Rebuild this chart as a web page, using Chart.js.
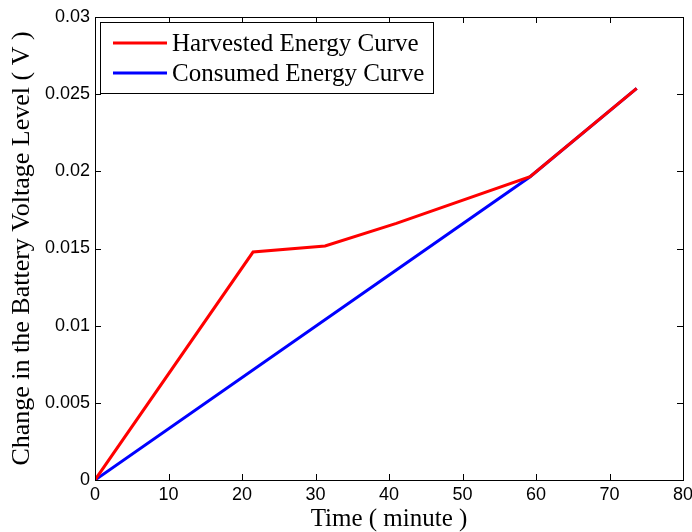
<!DOCTYPE html>
<html>
<head>
<meta charset="utf-8">
<script src="https://cdn.jsdelivr.net/npm/chart.js@4/dist/chart.umd.min.js"></script>
<style>
  html, body { margin: 0; padding: 0; background: #fff; }
  #wrap { width: 692px; height: 532px; }
</style>
</head>
<body>
<div id="wrap"><canvas id="voltageChart" width="692" height="532"></canvas></div>
<script>
// Data
const harvestedTime = [0, 21.5, 31.3, 41.0, 59.2, 73.7];
const harvestedVolt = [0, 0.01477, 0.01516, 0.01663, 0.01965, 0.02538];
const consumedTime = [0, 59.2, 73.7];
const consumedVolt = [0, 0.01965, 0.02538];
const seriesLabels = ['Harvested Energy Curve', 'Consumed Energy Curve'];
const xTicks = [0, 10, 20, 30, 40, 50, 60, 70, 80];
const yTicks = [0, 0.005, 0.01, 0.015, 0.02, 0.025, 0.03];

const toPoints = (xs, ys) => xs.map((x, i) => ({ x: x, y: ys[i] }));

// MATLAB-like box with inward ticks on all four sides, plus a boxed legend
const matlabBox = {
    id: 'matlabBox',
    afterDatasetsDraw(chart) {
        const ctx = chart.ctx;
        const a = chart.chartArea;
        const xs = chart.scales.x, ys = chart.scales.y;
        const tl = 6;
        ctx.save();
        ctx.strokeStyle = '#000';
        ctx.lineWidth = 1;
        ctx.beginPath();
        xTicks.forEach(v => {
            const px = Math.round(xs.getPixelForValue(v)) + 0.5;
            ctx.moveTo(px, a.bottom); ctx.lineTo(px, a.bottom - tl);
            ctx.moveTo(px, a.top); ctx.lineTo(px, a.top + tl);
        });
        yTicks.forEach(v => {
            const py = Math.round(ys.getPixelForValue(v)) + 0.5;
            ctx.moveTo(a.left, py); ctx.lineTo(a.left + tl, py);
            ctx.moveTo(a.right, py); ctx.lineTo(a.right - tl, py);
        });
        ctx.stroke();
        ctx.strokeRect(Math.round(a.left) + 0.5, Math.round(a.top) + 0.5,
            Math.round(a.right - a.left), Math.round(a.bottom - a.top));

        // legend
        const lx = a.left + 5, ly = a.top + 5, lw = 333, lh = 71;
        ctx.fillStyle = '#fff';
        ctx.fillRect(lx, ly, lw, lh);
        ctx.strokeRect(Math.round(lx) + 0.5, Math.round(ly) + 0.5, lw, lh);
        ctx.font = '25px "Liberation Serif", "Times New Roman", serif';
        ctx.textBaseline = 'middle';
        ctx.textAlign = 'left';
        chart.data.datasets.forEach((ds, i) => {
            const cy = ly + 21 + i * 30;
            ctx.strokeStyle = ds.borderColor;
            ctx.lineWidth = 3;
            ctx.beginPath();
            ctx.moveTo(lx + 13, cy); ctx.lineTo(lx + 67, cy);
            ctx.stroke();
            ctx.fillStyle = '#000';
            ctx.fillText(ds.label, lx + 72, cy + 1);
        });
        ctx.restore();
    }
};

const ctx = document.getElementById('voltageChart').getContext('2d');
const voltageChart = new Chart(ctx, {
    type: 'line',
    data: {
        datasets: [{
            label: seriesLabels[0],
            data: toPoints(harvestedTime, harvestedVolt),
            borderColor: '#ff0000',
            borderWidth: 3,
            pointRadius: 0,
            fill: false,
            tension: 0
        }, {
            label: seriesLabels[1],
            data: toPoints(consumedTime, consumedVolt),
            borderColor: '#0000ff',
            borderWidth: 3,
            pointRadius: 0,
            fill: false,
            tension: 0
        }]
    },
    options: {
        responsive: false,
        animation: false,
        layout: { padding: { left: 0, top: 17, right: 9, bottom: 0 } },
        plugins: {
            legend: { display: false },
            tooltip: { enabled: false }
        },
        scales: {
            x: {
                type: 'linear',
                min: 0, max: 80,
                afterFit: s => { s.height = 52; s.paddingLeft = 0; s.paddingRight = 0; },
                afterBuildTicks: s => { s.ticks = xTicks.map(v => ({ value: v })); },
                grid: { display: false, drawTicks: false },
                border: { display: false },
                ticks: {
                    padding: 4,
                    color: '#000',
                    font: { family: '"Liberation Sans", Arial, sans-serif', size: 18 }
                },
                title: {
                    display: true,
                    text: 'Time ( minute )',
                    color: '#000',
                    padding: 0,
                    font: { family: '"Liberation Serif", "Times New Roman", serif', size: 25, lineHeight: 1 }
                }
            },
            y: {
                min: 0, max: 0.03,
                afterFit: s => { s.width = 95; s.paddingTop = 0; s.paddingBottom = 0; },
                afterBuildTicks: s => { s.ticks = yTicks.map(v => ({ value: v })); },
                grid: { display: false, drawTicks: false },
                border: { display: false },
                ticks: {
                    padding: 5,
                    color: '#000',
                    font: { family: '"Liberation Sans", Arial, sans-serif', size: 18 },
                    callback: v => String(Number(v.toFixed(3)))
                },
                title: {
                    display: true,
                    text: 'Change in the Battery Voltage Level ( V )',
                    color: '#000',
                    padding: { top: 9, bottom: 0 },
                    font: { family: '"Liberation Serif", "Times New Roman", serif', size: 26, lineHeight: 1 }
                }
            }
        }
    },
    plugins: [matlabBox]
});
</script>
</body>
</html>
